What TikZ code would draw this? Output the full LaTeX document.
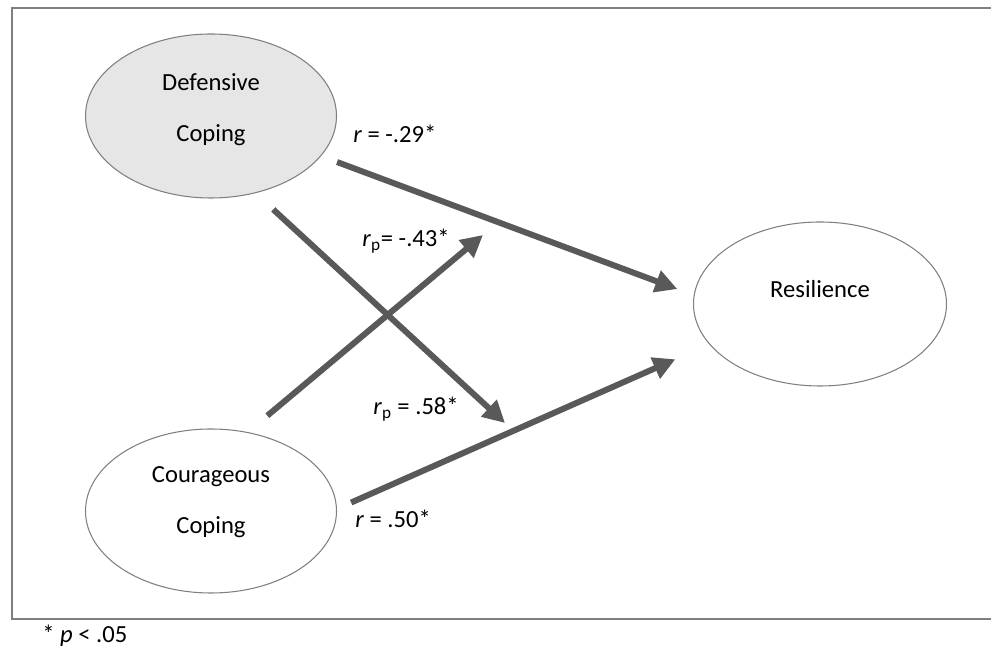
\documentclass[tikz,border=0pt]{standalone}
\usepackage{fontspec}
\setmainfont{Carlito}
\usetikzlibrary{arrows.meta, shapes.geometric}

\definecolor{arrowgray}{HTML}{595959}
\definecolor{linegray}{HTML}{7F7F7F}
\definecolor{shade}{HTML}{E7E6E6}

\tikzset{
  oval/.style={ellipse, draw=linegray, line width=0.6pt, minimum width=5.02cm, minimum height=3.28cm, inner sep=0pt},
  vartext/.style={align=center, font=\fontsize{14}{29}\selectfont},
  link/.style={draw=arrowgray, line width=0.12cm, -{Triangle[length=0.44cm, width=0.44cm]}},
  coef/.style={anchor=base west, inner sep=0pt, font=\fontsize{14}{17}\selectfont}
}

\begin{document}
\begin{tikzpicture}
          \useasboundingbox (0, 0) rectangle (19.82, 12.96);
          \draw[linegray, line width=1.1pt] (19.82, 12.8) -- (0.24, 12.8) -- (0.24, 0.58) -- (19.82, 0.58);
          \node[oval, fill=shade, label={[vartext, yshift=0.12cm]center:{Defensive\\Coping}}] (def) at (4.22, 10.64) {};
          \node[oval, label={[vartext, yshift=0.17cm]center:{Courageous\\Coping}}] (cou) at (4.22, 2.74) {};
          \node[oval, minimum width=5.06cm, label={[vartext, yshift=0.3cm]center:Resilience}] (res) at (16.4, 6.88) {};
          \coordinate (tipa) at (10.1, 4.5);
          \coordinate (tipb) at (9.66, 8.26);
          \draw[link, shorten <=0.34cm, shorten >=0.35cm] (def.-20.7) -- (res.176.4);
          \draw[link, shorten <=0.31cm, shorten >=0.74cm] (cou.1.3) -- (res.200.7);
          \draw[link, shorten <=0.48cm] (def.-60.3) -- (tipa);
          \draw[link, shorten <=0.51cm] (cou.65.8) -- (tipb);
          \node[coef] (r29) at (7.06, 10.1) {\textit{r} = -.29*};
          \node[coef] (r43) at (7.24, 8.02) {\textit{r}\textsubscript{p}= -.43*};
          \node[coef] (r58) at (7.46, 4.66) {\textit{r}\textsubscript{p} = .58*};
          \node[coef] (r50) at (7.1, 2.4) {\textit{r} = .50*};
          \node[coef] (sig) at (0.84, 0.1) {* \textit{p} < .05};
        \end{tikzpicture}
\end{document}
